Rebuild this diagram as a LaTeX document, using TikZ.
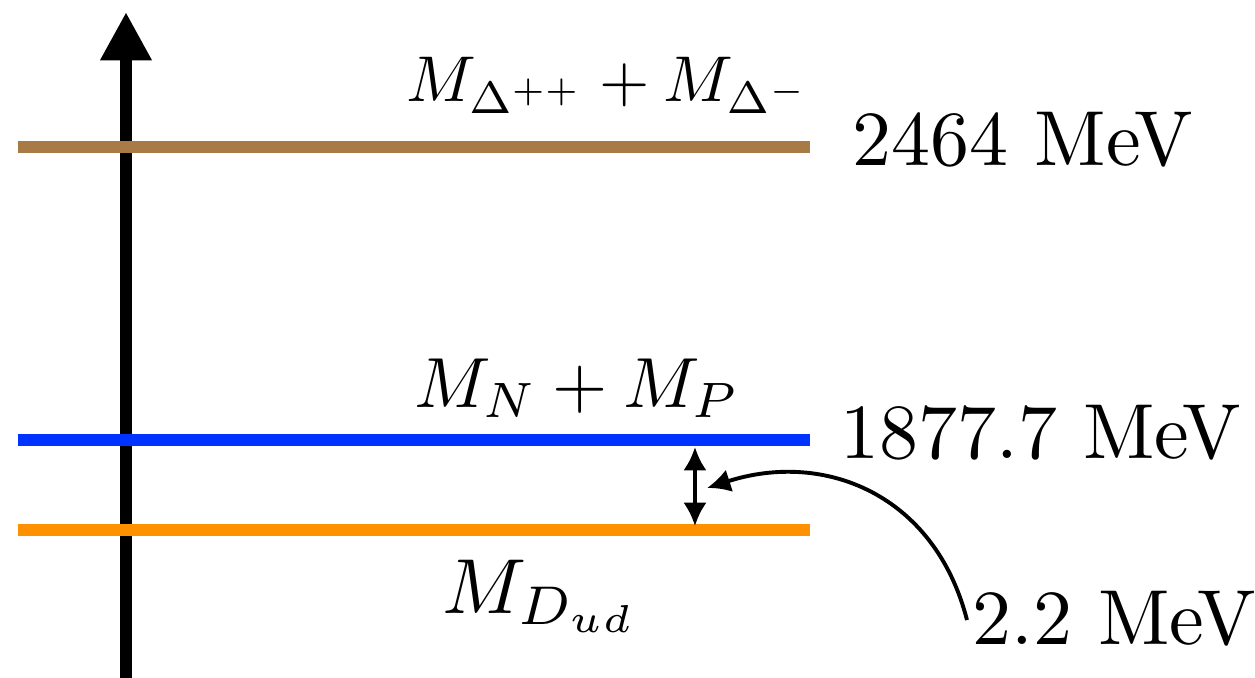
\documentclass[tikz,border=0pt]{standalone}
\usetikzlibrary{arrows.meta}
\definecolor{dbrown}{RGB}{168,122,70}
\definecolor{dblue}{RGB}{0,51,255}
\definecolor{dorange}{RGB}{255,145,0}
\begin{document}
\begin{tikzpicture}[x=0.1282pt,y=-0.1282pt,
  level/.style={line width=1.54pt},
  lbl/.style={inner sep=0pt,anchor=base west},
  thinarrow/.style={line width=0.5pt}]
\useasboundingbox (0,0) rectangle (1255,678);
% axis
\coordinate (axb) at (126,678);
\coordinate (axt) at (126,12);
\draw[line width=1.54pt,-{Triangle[width=6.2pt,length=6.2pt]}] (axb) -- (axt);
% levels
\coordinate (d1) at (18,147); \coordinate (d2) at (810,147);
\coordinate (n1) at (18,440); \coordinate (n2) at (810,440);
\coordinate (o1) at (18,530); \coordinate (o2) at (810,530);
\draw[level,dbrown] (d1) -- (d2);
\draw[level,dblue] (n1) -- (n2);
\draw[level,dorange] (o1) -- (o2);
% labels
\node[lbl,scale=0.83] (ldelta) at (405,101) {$M_{\Delta^{++}}+M_{\Delta^-}$};
\node[lbl] (edelta) at (851,165) {2464 MeV};
\node[lbl,scale=0.91] (lnp) at (413,407) {$M_N+M_P$};
\node[lbl] (enp) at (839,458) {1877.7 MeV};
\node[lbl] (ldud) at (441,613) {$M_{D_{ud}}$};
\node[lbl] (egap) at (971,644) {2.2 MeV};
% gap arrow
\coordinate (gt) at (695,447);
\coordinate (gb) at (695,526);
\coordinate (gm) at (707,488);
\draw[thinarrow,{Latex[length=3pt,width=3pt]}-{Latex[length=3pt,width=3pt]}] (gt) -- (gb);
\coordinate (cs) at (967,620);
\draw[thinarrow,-{Latex[length=3pt,width=3pt]}] (cs) .. controls (935,495) and (825,450) .. (gm);
\end{tikzpicture}
\end{document}
